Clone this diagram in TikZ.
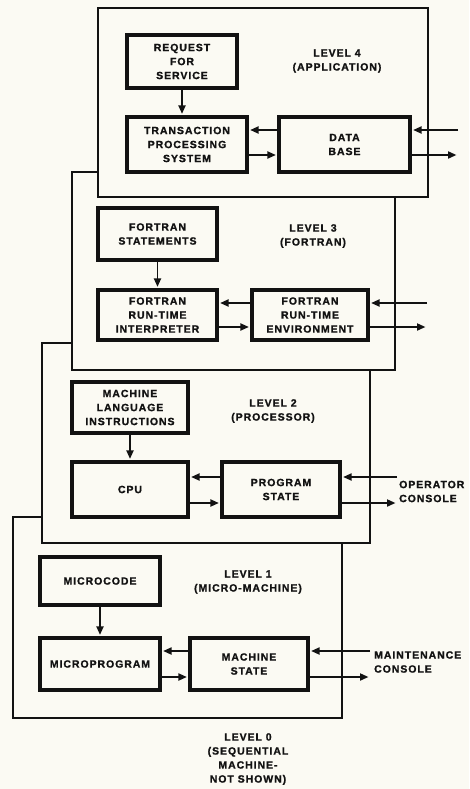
\documentclass[tikz,border=0pt]{standalone}
\usepackage{fontspec}
\newfontfamily\lblfont{Liberation Sans Bold}[LetterSpace=9,FakeBold=1.2]
\newcommand\lbltxt{\lblfont\fontsize{10.5}{14}\selectfont}
\usetikzlibrary{arrows.meta}
\definecolor{paper}{RGB}{251,250,243}
\definecolor{ink}{RGB}{18,18,18}
\begin{document}
\begin{tikzpicture}[x=1pt,y=-1pt,
 lvl/.style={draw=ink,line width=1.8pt,fill=paper,inner sep=0pt},
 blk/.style={draw=ink,line width=3.2pt,fill=paper,align=center,inner sep=0pt,font=\lbltxt,text=ink},
 txt/.style={align=center,inner sep=0pt,font=\lbltxt,text=ink},
 arr/.style={draw=ink,line width=1.9pt,-{Triangle[length=8.5pt,width=7pt]},shorten >=1.5pt}]
\fill[paper] (0,0) rectangle (469,789);
\useasboundingbox (0,0) rectangle (469,789);

% level frames (bottom to top)
\node[lvl,minimum width=329pt,minimum height=201pt] (L1) at (177.5,617.5) {};
\node[lvl,minimum width=328pt,minimum height=200pt] (L2) at (206,443) {};
\node[lvl,minimum width=323pt,minimum height=198pt] (L3) at (233.5,271) {};
\node[lvl,minimum width=330pt,minimum height=189pt] (L4) at (263,102.5) {};

% ---- level 4
\node[blk,minimum width=110pt,minimum height=53pt] (rfs) at (182,61.5) {REQUEST\\FOR\\SERVICE};
\node[blk,minimum width=120pt,minimum height=55pt] (tps) at (187,144.5) {TRANSACTION\\PROCESSING\\SYSTEM};
\node[blk,minimum width=131pt,minimum height=55pt] (db) at (344.5,144.5) {DATA\\BASE};
\node[txt] (lab4) at (337,61) {LEVEL 4\\(APPLICATION)};
\coordinate (in4) at (458,130);
\coordinate (out4) at (458,155);
\draw[arr] (rfs.south) -- (rfs.south |- tps.north);
\draw[arr] (in4) -- (in4 -| db.east);
\draw[arr] (in4 -| db.west) -- (in4 -| tps.east);
\draw[arr] (out4 -| tps.east) -- (out4 -| db.west);
\draw[arr] (out4 -| db.east) -- (out4);

% ---- level 3
\node[blk,minimum width=119pt,minimum height=52pt] (fs) at (157.5,234) {FORTRAN\\STATEMENTS};
\node[blk,minimum width=119pt,minimum height=50pt] (fri) at (157.5,315) {FORTRAN\\RUN-TIME\\INTERPRETER};
\node[blk,minimum width=116pt,minimum height=50pt] (fre) at (310,315) {FORTRAN\\RUN-TIME\\ENVIRONMENT};
\node[txt] (lab3) at (313,236) {LEVEL 3\\(FORTRAN)};
\coordinate (in3) at (427,303);
\coordinate (out3) at (427,327);
\draw[arr] (fs.south) -- (fs.south |- fri.north);
\draw[arr] (in3) -- (in3 -| fre.east);
\draw[arr] (in3 -| fre.west) -- (in3 -| fri.east);
\draw[arr] (out3 -| fri.east) -- (out3 -| fre.west);
\draw[arr] (out3 -| fre.east) -- (out3);

% ---- level 2
\node[blk,minimum width=116pt,minimum height=51pt] (mli) at (130,407.5) {MACHINE\\LANGUAGE\\INSTRUCTIONS};
\node[blk,minimum width=116pt,minimum height=55pt] (cpu) at (130,489.5) {CPU};
\node[blk,minimum width=118pt,minimum height=55pt] (ps) at (281,489.5) {PROGRAM\\STATE};
\node[txt] (lab2) at (273,411) {LEVEL 2\\(PROCESSOR)};
\coordinate (in2) at (397,477);
\coordinate (out2) at (397,503);
\node[txt,anchor=west,align=left] (opc) at (399,491.5) {OPERATOR\\CONSOLE};
\draw[arr] (mli.south) -- (mli.south |- cpu.north);
\draw[arr] (in2) -- (in2 -| ps.east);
\draw[arr] (in2 -| ps.west) -- (in2 -| cpu.east);
\draw[arr] (out2 -| cpu.east) -- (out2 -| ps.west);
\draw[arr] (out2 -| ps.east) -- (out2);

% ---- level 1
\node[blk,minimum width=120pt,minimum height=48pt] (mc) at (100,581) {MICROCODE};
\node[blk,minimum width=120pt,minimum height=52pt] (mp) at (100,664) {MICROPROGRAM};
\node[blk,minimum width=118pt,minimum height=52pt] (ms) at (249,664) {MACHINE\\STATE};
\node[txt] (lab1) at (248,582) {LEVEL 1\\(MICRO-MACHINE)};
\coordinate (in1) at (370,651);
\coordinate (out1) at (370,677);
\node[txt,anchor=west,align=left] (mnc) at (374,662) {MAINTENANCE\\CONSOLE};
\draw[arr] (mc.south) -- (mc.south |- mp.north);
\draw[arr] (in1) -- (in1 -| ms.east);
\draw[arr] (in1 -| ms.west) -- (in1 -| mp.east);
\draw[arr] (out1 -| mp.east) -- (out1 -| ms.west);
\draw[arr] (out1 -| ms.east) -- (out1);

% ---- level 0
\node[txt] (lab0) at (248,759) {LEVEL 0\\(SEQUENTIAL\\MACHINE-\\NOT SHOWN)};
\end{tikzpicture}
\end{document}
